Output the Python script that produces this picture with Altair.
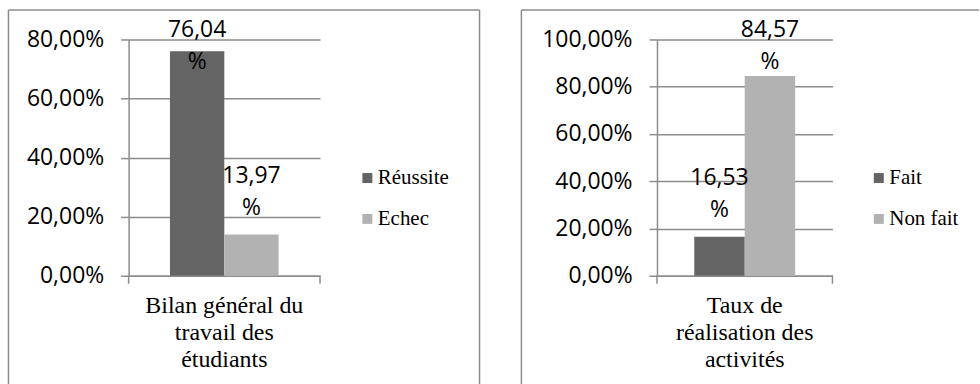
import json
import altair as alt
import pandas as pd

# ---------------- data ----------------
left_category = "Bilan général du travail des étudiants"
left_category_lines = ["Bilan général du", "travail des", "étudiants"]
left_series = ["Réussite", "Echec"]
left_values = [0.7604, 0.1397]
left_ticks = [0, 0.2, 0.4, 0.6, 0.8]

right_category = "Taux de réalisation des activités"
right_category_lines = ["Taux de", "réalisation des", "activités"]
right_series = ["Fait", "Non fait"]
right_values = [0.1653, 0.8457]
right_ticks = [0, 0.2, 0.4, 0.6, 0.8, 1.0]

# ---------------- style ----------------
DARK = "#646464"
LIGHT = "#b2b2b2"
GRAY = "#8c8c8c"
PLOT_H = 237
SANS = "Open Sans"
SERIF = "Liberation Serif"


def panel(category, lines, series, values, ticks, width, pad_outer,
          frame_left, frame_right, legend_x, legend_y, right_edge):
    ymax = ticks[-1]
    ppu = PLOT_H / ymax
    df = pd.DataFrame({"category": [category] * len(series),
                       "series": series, "value": values})
    one = pd.DataFrame({"k": [0]})

    x_enc = alt.X("category:N",
                  scale=alt.Scale(paddingInner=0, paddingOuter=0),
                  axis=alt.Axis(title=None, ticks=False, domainColor=GRAY,
                                domainWidth=1.5, labelAngle=0,
                                labelFont=SERIF, labelFontSize=24,
                                labelColor="black", labelLineHeight=27,
                                labelBaseline="alphabetic", labelPadding=36.7,
                                labelLimit=400, labelExpr=json.dumps(lines)))
    xo_enc = alt.XOffset("series:N", sort=series,
                         scale=alt.Scale(domain=series, paddingInner=0,
                                         paddingOuter=pad_outer))
    y_scale = alt.Scale(domain=[0, ymax], nice=False)
    y_axis = alt.Axis(title=None, values=ticks,
                      labelExpr="replace(format(datum.value, '.2%'), '.', ',')",
                      labelFont=SANS, labelFontSize=23,
                      labelColor="black", labelPadding=17,
                      ticks=True, tickSize=8, tickColor=GRAY, tickWidth=1.5,
                      domain=True, domainColor=GRAY, domainWidth=1.5,
                      grid=True, gridColor=GRAY, gridWidth=1.5)

    bars = alt.Chart(df).mark_bar().encode(
        x=x_enc, xOffset=xo_enc,
        y=alt.Y("value:Q", scale=y_scale, axis=y_axis),
        color=alt.Color("series:N", sort=series,
                        scale=alt.Scale(domain=series, range=[DARK, LIGHT]),
                        legend=alt.Legend(title=None, orient="none",
                                          legendX=legend_x, legendY=legend_y,
                                          symbolType="square", symbolSize=100,
                                          symbolStrokeWidth=0, symbolOpacity=1,
                                          labelFont=SERIF, labelFontSize=21,
                                          labelColor="black", rowPadding=19,
                                          labelOffset=0, padding=0)))

    labels = alt.Chart(df).transform_calculate(
        lbl="[replace(format(datum.value * 100, '.2f'), '.', ','), '%']",
        lpos=f"min(datum.value + {52 / ppu}, {ymax + 2 / ppu})",
    ).mark_text(font=SANS, fontSize=23, lineHeight=32, align="center",
                baseline="alphabetic", color="black").encode(
        x=x_enc, xOffset=xo_enc,
        y=alt.Y("lpos:Q", scale=y_scale, axis=y_axis),
        text="lbl:N")

    top_y = -29.5
    bottom_y = 346.3
    deco = [
        alt.Chart(one).mark_rule(color=GRAY, strokeWidth=1.5).encode(
            x=alt.value(frame_left), y=alt.value(top_y), y2=alt.value(bottom_y)),
        alt.Chart(one).mark_rule(color=GRAY, strokeWidth=1.5).encode(
            x=alt.value(frame_left), x2=alt.value(frame_right), y=alt.value(top_y)),
        alt.Chart(one).mark_rule(color=GRAY, strokeWidth=1.5).encode(
            x=alt.value(0), y=alt.value(PLOT_H), y2=alt.value(PLOT_H + 8)),
        alt.Chart(one).mark_rule(color=GRAY, strokeWidth=1.5).encode(
            x=alt.value(width), y=alt.value(PLOT_H), y2=alt.value(PLOT_H + 8)),
    ]
    if right_edge:
        deco.append(alt.Chart(one).mark_rule(color=GRAY, strokeWidth=1.5).encode(
            x=alt.value(frame_right), y=alt.value(top_y), y2=alt.value(bottom_y)))

    return alt.layer(bars, labels, *deco).properties(width=width, height=PLOT_H)


left = panel(left_category, left_category_lines, left_series, left_values,
             left_ticks, 192, 0.7615, -120.5, 352, 229, 128.5, True)
right = panel(right_category, right_category_lines, right_series, right_values,
              right_ticks, 176, 0.739, -136, 323, 212, 128.5, False)

chart = alt.hconcat(left, right, spacing=40).resolve_scale(
    color="independent", x="independent", y="independent", xOffset="independent"
).properties(
    padding={"left": 7, "top": 8, "right": 0, "bottom": 0}
).configure(background="white").configure_view(stroke=None).configure_legend(
    labelFont=SERIF, labelFontSize=21, labelColor="black"
)

chart.save("out.html", embed_options={"renderer": "svg", "actions": False})
